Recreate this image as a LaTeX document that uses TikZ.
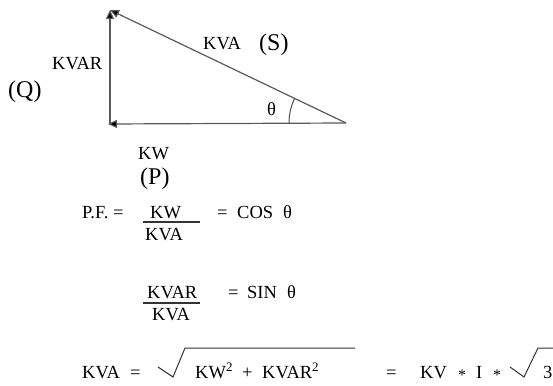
\documentclass[tikz,border=0pt]{standalone}
\usepackage{fontspec}
\setmainfont{Liberation Serif}
\usetikzlibrary{arrows.meta}
\begin{document}
\begin{tikzpicture}[x=1pt,y=-1pt,
  txt/.style={inner sep=0pt,anchor=base west,font=\fontsize{18.5}{20}\selectfont},
  big/.style={inner sep=0pt,anchor=base west,font=\fontsize{24}{26}\selectfont},
  star/.style={inner sep=0pt,anchor=base west,font=\fontsize{16}{18}\selectfont},
  vec/.style={draw=black!65,line width=1.2pt,-{Triangle[length=9pt,width=8pt,fill=black]}},
  rulez/.style={draw=black!80,line width=1.1pt},
  rad/.style={draw=black!80,line width=1pt,line join=miter}]
\useasboundingbox (0,0) rectangle (553,385);
% triangle
\coordinate (top) at (110,10);
\coordinate (bl) at (110,124);
\coordinate (r) at (346,123);
\coordinate (blt) at (108,124);
\draw[vec] (r) -- (blt);
\draw[vec] (bl) -- (top);
\draw[vec] (r) -- (top);
\draw[draw=black!70,line width=1pt] ([shift={(180:57)}]r) arc (180:205.6:57);
% labels
\node[txt] (kvarl) at (52,70) {KVAR};
\node[big] (q) at (8,97) {(Q)};
\node[txt] (kval) at (203,50) {KVA};
\node[big] (s) at (259,51) {(S)};
\node[txt] (th) at (267,115) {θ};
\node[txt] (kwl) at (138,159) {KW};
\node[big] (p) at (140,184) {(P)};
% P.F.
\node[txt] (pf) at (82,218) {P.F. =};
\node[txt] (kw1) at (150,218) {KW};
\draw[rulez] (143,222) -- (200,222);
\node[txt] (kva1) at (145,240) {KVA};
\node[txt] (eq1) at (217,218) {=};
\node[txt] (cos) at (237,218) {COS};
\node[txt] (th1) at (283,218) {θ};
% sin
\node[txt] (kvar2) at (147,298) {KVAR};
\draw[rulez] (143,303) -- (200,303);
\node[txt] (kva2) at (152,320) {KVA};
\node[txt] (eq2) at (228,298) {=};
\node[txt] (sin) at (247,298) {SIN};
\node[txt] (th2) at (287,298) {θ};
% bottom
\node[txt] (kva3) at (82,378) {KVA};
\node[txt] (eq3) at (130,378) {=};
\draw[rad] (158,367) -- (173,377) -- (185,348) -- (355,348);
\node[txt] (kw3) at (195,378) {KW\textsuperscript{2}};
\node[txt] (plus) at (242,378) {+};
\node[txt] (kvar3) at (262,378) {KVAR\textsuperscript{2}};
\node[txt] (eq4) at (386,378) {=};
\node[txt] (kv) at (420,378) {KV};
\node[star] (st1) at (458,380) {*};
\node[txt] (ii) at (476,378) {I};
\node[star] (st2) at (493,380) {*};
\draw[rad] (510,367) -- (524,377) -- (538,348) -- (553,348);
\node[txt] (three) at (543,378) {3};
\end{tikzpicture}
\end{document}
